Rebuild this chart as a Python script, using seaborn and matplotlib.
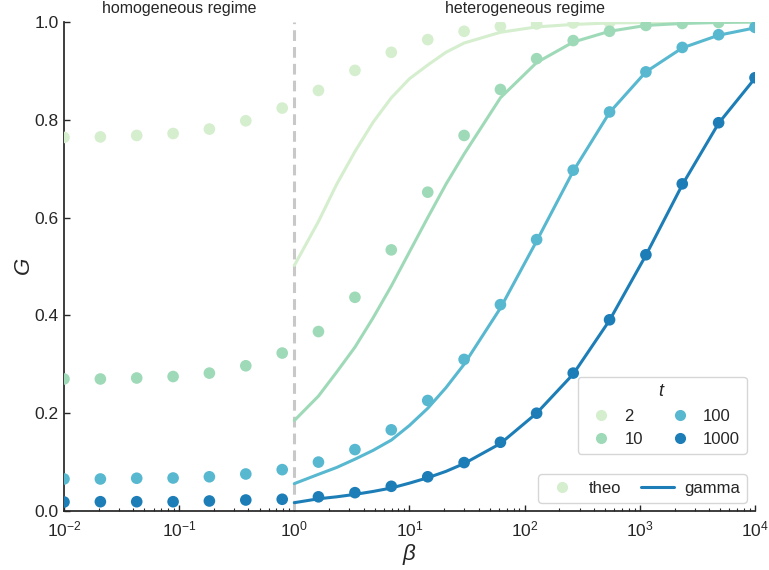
import numpy as np
import pandas as pd
import matplotlib
matplotlib.use('Agg')
import matplotlib.pyplot as plt
from matplotlib.lines import Line2D
from matplotlib.ticker import LogLocator, NullFormatter
import seaborn as sns

# values
t_values = [2, 10, 100, 1000]

beta_theo = [0.01, 0.0207, 0.0428, 0.0886, 0.183, 0.379, 0.785, 1.62, 3.36, 6.95,
             14.4, 29.8, 61.6, 127, 264, 546, 1129, 2336, 4833, 10000]
G_theo_2 = [0.764, 0.765, 0.768, 0.772, 0.781, 0.798, 0.824, 0.860, 0.901, 0.938,
            0.964, 0.981, 0.991, 0.996, 0.998, 0.999, 1.0, 1.0, 1.0, 1.0]
G_theo_10 = [0.270, 0.270, 0.272, 0.275, 0.282, 0.297, 0.323, 0.367, 0.437, 0.534,
             0.652, 0.768, 0.862, 0.925, 0.962, 0.981, 0.993, 0.997, 0.999, 1.0]
G_theo_100 = [0.0655, 0.0655, 0.067, 0.0675, 0.070, 0.0757, 0.0846, 0.100, 0.1256, 0.166,
              0.226, 0.310, 0.422, 0.555, 0.697, 0.816, 0.898, 0.948, 0.974, 0.989]
G_theo_1000 = [0.0184, 0.019, 0.019, 0.019, 0.0205, 0.0225, 0.024, 0.029, 0.0375, 0.0505,
               0.070, 0.099, 0.1406, 0.200, 0.282, 0.391, 0.524, 0.669, 0.794, 0.886]

beta_gamma = [1, 1.62, 2.33, 3.36, 4.83, 6.95, 10, 14.4, 20.7, 29.8, 61.6, 127, 264, 546,
              1129, 2336, 4833, 10000]
G_gamma_2 = [0.502, 0.592, 0.668, 0.735, 0.795, 0.845, 0.884, 0.912, 0.938, 0.957,
             0.979, 0.990, 0.995, 0.998, 0.999, 1.0, 1.0, 1.0]
G_gamma_10 = [0.185, 0.235, 0.284, 0.335, 0.395, 0.46, 0.53, 0.60, 0.668, 0.73,
              0.845, 0.917, 0.959, 0.981, 0.993, 0.997, 0.999, 1.0]
G_gamma_100 = [0.056, 0.075, 0.089, 0.106, 0.124, 0.145, 0.175, 0.210, 0.252, 0.300,
               0.415, 0.552, 0.695, 0.815, 0.898, 0.947, 0.973, 0.988]
G_gamma_1000 = [0.017, 0.025, 0.029, 0.034, 0.040, 0.047, 0.057, 0.068, 0.081, 0.097,
                0.138, 0.200, 0.280, 0.390, 0.523, 0.667, 0.793, 0.885]

theo = pd.concat([
    pd.DataFrame({'beta': beta_theo, 'G': g, 't': t})
    for t, g in zip(t_values, [G_theo_2, G_theo_10, G_theo_100, G_theo_1000])
])
gamma = pd.concat([
    pd.DataFrame({'beta': beta_gamma, 'G': g, 't': t})
    for t, g in zip(t_values, [G_gamma_2, G_gamma_10, G_gamma_100, G_gamma_1000])
])

sns.set_theme(style='ticks')
plt.rcParams['font.family'] = ['Liberation Sans', 'DejaVu Sans']
plt.rcParams['mathtext.fontset'] = 'custom'
plt.rcParams['mathtext.rm'] = 'Liberation Sans'
plt.rcParams['mathtext.it'] = 'Liberation Sans:italic'

palette = sns.color_palette('GnBu', 4)
pal = dict(zip(t_values, palette))

fig = plt.figure(figsize=(7.69, 5.70), dpi=100)
ax = fig.add_axes([0.0832, 0.1035, 0.8986, 0.8579])

ax.axvline(1, color='#c8c8c8', ls='--', lw=2.2, dashes=(3.5, 2), zorder=1)

sns.lineplot(data=gamma, x='beta', y='G', hue='t', palette=pal, lw=2.2,
             legend=False, ax=ax, zorder=2)
sns.scatterplot(data=theo, x='beta', y='G', hue='t', palette=pal, s=70,
                edgecolor='none', linewidth=0, legend=False, ax=ax, zorder=3)

ax.set_xscale('log')
ax.set_xlim(1e-2, 1e4)
ax.set_ylim(0, 1)
ax.set_yticks([0, 0.2, 0.4, 0.6, 0.8, 1.0])
ax.xaxis.set_minor_locator(LogLocator(base=10, subs=np.arange(2, 10), numticks=100))
ax.xaxis.set_minor_formatter(NullFormatter())
ax.tick_params(which='major', direction='in', length=4, width=1, labelsize=12.5)
ax.tick_params(which='minor', direction='in', length=2.2, width=0.8)
ax.tick_params(axis='y', pad=4)
ax.tick_params(axis='x', pad=6)
ax.set_xlabel(r'$\beta$', fontsize=16)
ax.set_ylabel(r'$G$', fontsize=16)
ax.xaxis.set_label_coords(0.5, -0.063)
ax.yaxis.set_label_coords(-0.042, 0.5)
sns.despine(ax=ax)

ax.text(0.1, 1.012, 'homogeneous regime', ha='center', va='bottom', fontsize=11.5,
        transform=ax.get_xaxis_transform())
ax.text(100, 1.012, 'heterogeneous regime', ha='center', va='bottom', fontsize=11.5,
        transform=ax.get_xaxis_transform())

t_handles = [Line2D([], [], ls='none', marker='o', ms=8, mec='none', color=pal[t])
             for t in t_values]
leg1 = ax.legend(t_handles, [str(t) for t in t_values], title='$t$', ncol=2,
                 loc='lower right', bbox_to_anchor=(1.0, 0.1), fontsize=12,
                 title_fontsize=13, handletextpad=0.4, columnspacing=1.2)
ax.add_artist(leg1)

m_handles = [Line2D([], [], ls='none', marker='o', ms=8, mec='none', color=palette[0]),
             Line2D([], [], color=palette[3], lw=2.2)]
ax.legend(m_handles, ['theo', 'gamma'], ncol=2, loc='lower right', fontsize=12,
          handletextpad=0.6, columnspacing=1.2)

fig.savefig('out.png', dpi=100)
